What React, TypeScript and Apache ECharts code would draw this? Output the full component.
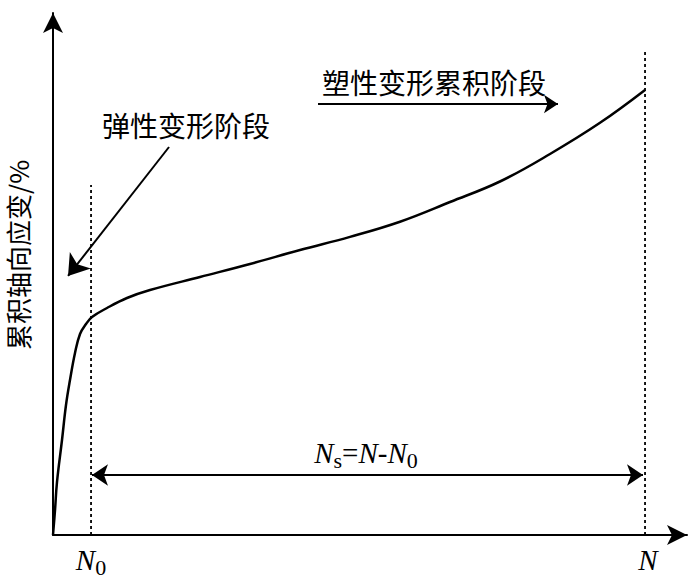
import React, { useEffect, useRef } from "react";
import * as echarts from "echarts";

// Normalised axis units (0-100 on both axes)
const curveX = [0, 0.32, 0.63, 1.42, 2.05, 2.68, 3.47, 4.26, 5.21, 6.15, 8.52, 11.67, 15.3, 23.19, 31.07, 38.96, 46.85, 54.73, 62.62, 70.5, 78.39, 86.28, 93.38];
const curveY = [0, 4.79, 10.15, 18.2, 24.9, 29.69, 34.87, 38.51, 40.42, 41.76, 43.49, 45.4, 46.93, 49.43, 51.92, 54.6, 57.12, 60.02, 63.79, 67.72, 72.99, 78.96, 85.25];

const N0 = 6.0;
const N = 93.38;
const N0DashTop = 67.05;
const NDashTop = 92.9;
const spanArrowY = 11.49;
const spanArrowStart = 6.15;
const spanArrowEnd = 93.06;
const elasticArrow = [[18.3, 74.33], [2.37, 49.62]];
const plasticArrow = [[41.8, 82.57], [79.65, 82.57]];

const yAxisName = "累积轴向应变/%";
const elasticLabel = "弹性变形阶段";
const plasticLabel = "塑性变形累积阶段";

export default function App() {
  const ref = useRef<HTMLDivElement>(null);
  useEffect(() => {
    if (!ref.current) return;
    const chart = echarts.init(ref.current, null, { renderer: "svg" });
    const black = "#000";
    const serif = "Liberation Serif";
    const cjk = "Noto Sans CJK SC";
    const axisCommon = {
      type: "value" as const,
      min: 0,
      max: 100,
      axisTick: { show: false },
      axisLabel: { show: false },
      splitLine: { show: false },
      axisLine: {
        show: true,
        symbol: ["none", "arrow"],
        symbolSize: [15, 20],
        lineStyle: { color: black, width: 2 },
      },
    };
    const subRich = {
      i: { fontFamily: serif, fontStyle: "italic", fontSize: 29, lineHeight: 28, color: black },
      r: { fontFamily: serif, fontSize: 29, lineHeight: 28, color: black },
      s: { fontFamily: serif, fontSize: 22, lineHeight: 18, verticalAlign: "top", padding: [10, 0, 0, 0], color: black },
    };
    chart.setOption({
      animation: false,
      backgroundColor: "#fff",
      grid: { left: 53, right: 13, top: 13, bottom: 44 },
      xAxis: axisCommon,
      yAxis: axisCommon,
      series: [
        {
          type: "line",
          data: curveX.map((x, i) => [x, curveY[i]]),
          smooth: 0.4,
          symbol: "none",
          lineStyle: { color: black, width: 2.5 },
          clip: false,
        },
        {
          type: "line",
          data: [[N0, 0], [N0, N0DashTop]],
          symbol: "none",
          lineStyle: { color: black, width: 1.8, type: [3, 3] },
        },
        {
          type: "line",
          data: [[N, 0], [N, NDashTop]],
          symbol: "none",
          lineStyle: { color: black, width: 1.8, type: [3, 3] },
        },
        {
          type: "lines",
          coordinateSystem: "cartesian2d",
          symbol: ["arrow", "arrow"],
          symbolSize: 16,
          lineStyle: { color: black, width: 1.8, opacity: 1 },
          data: [{ coords: [[spanArrowStart, spanArrowY], [spanArrowEnd, spanArrowY]] }],
        },
        {
          type: "lines",
          coordinateSystem: "cartesian2d",
          symbol: ["none", "arrow"],
          symbolSize: 20,
          lineStyle: { color: black, width: 2, opacity: 1 },
          data: [{ coords: elasticArrow }],
        },
        {
          type: "lines",
          coordinateSystem: "cartesian2d",
          symbol: ["none", "arrow"],
          symbolSize: 14,
          lineStyle: { color: black, width: 1.8, opacity: 1 },
          data: [{ coords: plasticArrow }],
        },
      ],
      graphic: [
        {
          type: "text",
          x: 17,
          y: 255,
          rotation: Math.PI / 2,
          style: {
            text: yAxisName,
            fontFamily: cjk,
            fontSize: 26,
            fill: black,
            align: "center",
            verticalAlign: "middle",
          },
        },
        {
          type: "text",
          x: 186,
          y: 125,
          style: {
            text: elasticLabel,
            fontFamily: cjk,
            fontSize: 28,
            fill: black,
            align: "center",
            verticalAlign: "middle",
          },
        },
        {
          type: "text",
          x: 434,
          y: 82,
          style: {
            text: plasticLabel,
            fontFamily: cjk,
            fontSize: 28,
            fill: black,
            align: "center",
            verticalAlign: "middle",
          },
        },
        {
          type: "text",
          x: 91,
          y: 560,
          style: {
            text: "{i|N}{s|0}",
            rich: subRich,
            align: "center",
            verticalAlign: "middle",
          },
        },
        {
          type: "text",
          x: 648,
          y: 560,
          style: {
            text: "{i|N}",
            rich: subRich,
            align: "center",
            verticalAlign: "middle",
          },
        },
        {
          type: "text",
          x: 366,
          y: 453,
          style: {
            text: "{i|N}{s|s}{r|=}{i|N}{r|-}{i|N}{s|0}",
            rich: subRich,
            align: "center",
            verticalAlign: "middle",
          },
        },
      ],
    });
    return () => chart.dispose();
  }, []);
  return (
    <div
      ref={ref}
      style={{ position: "absolute", left: 0, top: 0, width: 700, height: 579 }}
    />
  );
}
